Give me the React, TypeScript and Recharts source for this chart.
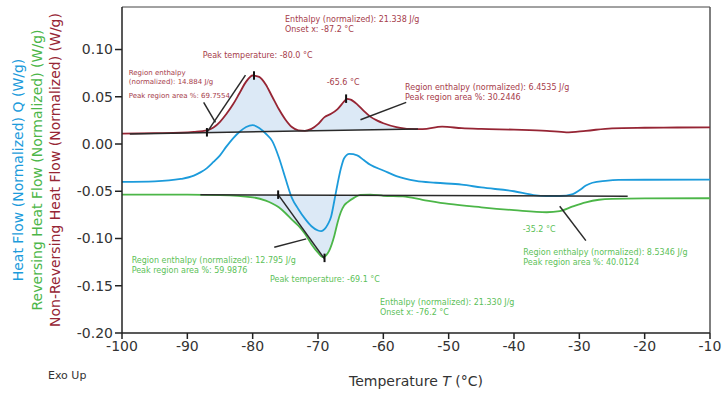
import {
	Area,
	ComposedChart,
	Line,
	ReferenceDot,
	ReferenceLine,
	XAxis,
	YAxis,
} from "recharts";

// Non-reversing heat flow (dark red)
const nonRevTemp = [
	-100, -95, -91, -89, -87, -86, -85, -84, -83, -82, -81, -80, -79, -78, -77,
	-76, -75, -74, -73, -72, -71, -70, -69, -68, -67, -66, -65.6, -65, -64, -63,
	-62, -61, -60, -58, -56, -54, -51, -48, -45, -40, -35, -32, -29, -25, -20,
	-15, -10,
];
const nonRevFlow = [
	0.011, 0.0115, 0.012, 0.0128, 0.0145, 0.0175, 0.0235, 0.032, 0.042, 0.054,
	0.066, 0.0725, 0.071, 0.063, 0.05, 0.037, 0.026, 0.018, 0.0145, 0.014, 0.016,
	0.021, 0.0285, 0.032, 0.037, 0.045, 0.0478, 0.047, 0.042, 0.035, 0.029, 0.025,
	0.022, 0.018, 0.016, 0.0158, 0.0183, 0.0168, 0.016, 0.0152, 0.014, 0.0124,
	0.014, 0.0166, 0.0172, 0.0175, 0.0177,
];

// Total heat flow (blue)
const heatTemp = [
	-100, -95, -91, -89, -88, -87, -86, -85, -84, -83, -82, -81, -80, -79, -78,
	-77, -76, -75, -74, -73, -72, -71, -70, -69.5, -69, -68.5, -68, -67.5, -67,
	-66.5, -66, -65.2, -64, -63, -62, -60, -58, -55, -52, -48, -45, -40, -37,
	-35, -33, -31, -30, -29, -28, -26, -24, -20, -10,
];
const heatFlow = [
	-0.04, -0.0395, -0.037, -0.0335, -0.03, -0.0255, -0.019, -0.012, -0.0025,
	0.006, 0.013, 0.018, 0.02, 0.017, 0.011, 0.003, -0.014, -0.036, -0.057,
	-0.069, -0.079, -0.087, -0.0915, -0.0922, -0.09, -0.085, -0.077, -0.06,
	-0.042, -0.026, -0.015, -0.0105, -0.012, -0.017, -0.022, -0.028, -0.034,
	-0.039, -0.041, -0.043, -0.046, -0.05, -0.054, -0.055, -0.055, -0.053, -0.049,
	-0.044, -0.041, -0.039, -0.038, -0.0378, -0.0377,
];

// Reversing heat flow (green)
const revTemp = [
	-100, -90, -85, -80, -78, -77, -76, -75, -74, -73, -72, -71, -70, -69.3,
	-68.8, -68.3, -67.5, -67, -66.5, -66, -65.5, -64.5, -63.5, -62, -60, -57, -54,
	-50, -45, -40, -35, -33, -31, -29, -27, -25, -20, -10,
];
const revFlow = [
	-0.0536, -0.0536, -0.054, -0.0564, -0.06, -0.063, -0.067, -0.073, -0.08,
	-0.0865, -0.095, -0.106, -0.115, -0.1198, -0.118, -0.113, -0.097, -0.083,
	-0.072, -0.065, -0.0617, -0.057, -0.0538, -0.0535, -0.0548, -0.0555, -0.059,
	-0.0634, -0.067, -0.07, -0.0722, -0.071, -0.066, -0.0617, -0.059, -0.058,
	-0.0575, -0.0574,
];

// integrated peak regions: [temperature, low, high]
const redPeakRegion: [number, number, number][] = [
	[-87, 0.0124, 0.0145], [-86, 0.0125, 0.0175], [-85, 0.0126, 0.0235],
	[-84, 0.0127, 0.032], [-83, 0.0128, 0.042], [-82, 0.0129, 0.054],
	[-81, 0.013, 0.066], [-80, 0.0131, 0.0725], [-79, 0.0132, 0.071],
	[-78, 0.0133, 0.063], [-77, 0.0134, 0.05], [-76, 0.0135, 0.037],
	[-75, 0.0136, 0.026], [-74, 0.0137, 0.018], [-73, 0.0138, 0.0145],
	[-72, 0.0139, 0.014], [-71, 0.014, 0.016], [-70, 0.0141, 0.021],
	[-69, 0.0142, 0.0285], [-68, 0.0143, 0.032], [-67, 0.0144, 0.037],
	[-66, 0.0146, 0.045], [-65.6, 0.0146, 0.0478], [-65, 0.0147, 0.047],
	[-64, 0.0148, 0.042], [-63, 0.0149, 0.035], [-62, 0.015, 0.029],
	[-61, 0.0151, 0.025], [-60, 0.0152, 0.022], [-58, 0.0155, 0.018],
	[-56, 0.0157, 0.016], [-55, 0.0158, 0.0158],
];
const greenPeakRegion: [number, number, number][] = [
	[-88, -0.0536, -0.0537], [-85, -0.054, -0.0538], [-80, -0.0564, -0.0539],
	[-78, -0.06, -0.054], [-77, -0.063, -0.054], [-76, -0.067, -0.054],
	[-75, -0.073, -0.054], [-74, -0.08, -0.054], [-73, -0.0865, -0.054],
	[-72, -0.095, -0.054], [-71, -0.106, -0.0541], [-70, -0.115, -0.0541],
	[-69.3, -0.1198, -0.0541], [-68.8, -0.118, -0.0541], [-68.3, -0.113, -0.0541],
	[-67.5, -0.097, -0.0541], [-67, -0.083, -0.0541], [-66.5, -0.072, -0.0541],
	[-66, -0.065, -0.0541], [-65.5, -0.0617, -0.0542], [-64.5, -0.057, -0.0542],
	[-63.5, -0.0542, -0.0542],
];

// baselines, tangents and leader lines: [x1, y1, x2, y2]
const blackSegments: [number, number, number, number][] = [
	[-98.8, 0.0106, -54.7, 0.0159],
	[-88, -0.0537, -22.6, -0.0552],
	[-87.0, 0.0124, -81.1, 0.0729],
	[-87.5, 0.044, -85.7, 0.0229],
	[-56.5, 0.0441, -63.5, 0.0257],
	[-76.1, -0.0536, -69.0, -0.1216],
	[-76.7, -0.1092, -71.8, -0.1004],
	[-33.0, -0.0659, -29.0, -0.1022],
];
// small vertical tick marks: [x, y]
const peakMarks: [number, number][] = [
	[-87.0, 0.0124],
	[-79.8, 0.0725],
	[-65.7, 0.048],
	[-76.1, -0.0536],
	[-69.0, -0.1205],
];

const redNotes: [number, number, string, number][] = [
	[-75.05, 0.1291, "Enthalpy (normalized): 21.338 J/g", 8],
	[-75.05, 0.1185, "Onset x: -87.2 °C", 8],
	[-87.65, 0.091, "Peak temperature: -80.0 °C", 8],
	[-98.97, 0.073, "Region enthalpy", 7],
	[-98.97, 0.0635, "(normalized): 14.884 J/g", 7],
	[-98.97, 0.0487, "Peak region area %: 69.7554", 7],
	[-68.67, 0.0625, "-65.6 °C", 8],
	[-56.68, 0.0572, "Region enthalpy (normalized): 6.4535 J/g", 8],
	[-56.68, 0.0471, "Peak region area %: 30.2446", 8],
];
const greenNotes: [number, number, string, number][] = [
	[-98.52, -0.1259, "Region enthalpy (normalized): 12.795 J/g", 8],
	[-98.52, -0.1365, "Peak region area %: 59.9876", 8],
	[-77.35, -0.146, "Peak temperature: -69.1 °C", 8],
	[-60.51, -0.1703, "Enthalpy (normalized): 21.330 J/g", 8],
	[-60.51, -0.1809, "Onset x: -76.2 °C", 8],
	[-38.67, -0.0931, "-35.2 °C", 8],
	[-38.57, -0.1174, "Region enthalpy (normalized): 8.5346 J/g", 8],
	[-38.57, -0.128, "Peak region area %: 40.0124", 8],
];

const xTicks = [-100, -90, -80, -70, -60, -50, -40, -30, -20, -10];
const yTicks = [-0.2, -0.15, -0.1, -0.05, 0, 0.05, 0.1];

const RED = "#962534";
const BLUE = "#1c9bdb";
const GREEN = "#4cb648";
const RED_TEXT = "#a63c4a";
const GREEN_TEXT = "#5cbf58";
const FILL = "#dce9f6";
const FONT = "DejaVu Sans";

const toPoints = (xs: number[], ys: number[]) =>
	xs.map((t, i) => ({ t, v: ys[i] }));

const YTitle = ({ viewBox }: any) => {
	const cy = 170;
	const rows = [
		{ x: 23, color: BLUE, text: "Heat Flow (Normalized) Q (W/g)" },
		{ x: 42, color: GREEN, text: "Reversing Heat Flow (Normalized) (W/g)" },
		{ x: 60, color: RED, text: "Non-Reversing Heat Flow (Normalized) (W/g)" },
	];
	const x0 = viewBox ? viewBox.x : 0;
	return (
		<g>
			{rows.map((r) => (
				<text
					key={r.text}
					x={x0 + r.x}
					y={cy}
					fill={r.color}
					fontSize={14}
					fontFamily={FONT}
					textAnchor="middle"
					transform={`rotate(-90 ${x0 + r.x} ${cy})`}
				>
					{r.text}
				</text>
			))}
		</g>
	);
};

const XTitle = ({ viewBox }: any) => {
	const { x, y, width } = viewBox;
	return (
		<g fontFamily={FONT} fill="#333">
			<text x={x + width / 2} y={y + 53} fontSize={14} textAnchor="middle">
				Temperature <tspan fontStyle="italic">T</tspan> (°C)
			</text>
			<text x={48} y={y + 46} fontSize={11}>
				Exo Up
			</text>
		</g>
	);
};

const noteShape = (text: string, color: string, size: number) => (p: any) => (
	<text x={p.cx} y={p.cy} fill={color} fontSize={size} fontFamily={FONT}>
		{text}
	</text>
);

const App = () => {
	return (
		<div style={{ position: "absolute", left: 0, top: 0 }}>
			<ComposedChart
				width={728}
				height={393}
				margin={{ top: 7, right: 18, bottom: 30, left: 0 }}
				style={{ fontFamily: FONT }}
			>
				<XAxis
					type="number"
					dataKey="t"
					domain={[-100, -10]}
					ticks={xTicks}
					allowDataOverflow
					height={30}
					stroke="#222"
					strokeWidth={1.5}
					tickSize={6}
					tick={{ fill: "#333", fontSize: 14 }}
					label={<XTitle />}
				/>
				<YAxis
					type="number"
					domain={[-0.2, 0.145]}
					ticks={yTicks}
					allowDataOverflow
					width={122}
					stroke="#222"
					strokeWidth={1.5}
					tickSize={7}
					tickFormatter={(v: number) => v.toFixed(2)}
					tick={{ fill: "#333", fontSize: 14 }}
					label={<YTitle />}
				/>
				<ReferenceLine y={0.145} stroke="#444" strokeWidth={1} />
				<ReferenceLine x={-10} stroke="#555" strokeWidth={1.5} />

				<Area
					data={redPeakRegion.map(([t, lo, hi]) => ({ t, r: [lo, hi] }))}
					dataKey="r"
					type="monotone"
					stroke="none"
					fill={FILL}
					fillOpacity={1}
					isAnimationActive={false}
				/>
				<Area
					data={greenPeakRegion.map(([t, lo, hi]) => ({ t, r: [lo, hi] }))}
					dataKey="r"
					type="monotone"
					stroke="none"
					fill={FILL}
					fillOpacity={1}
					isAnimationActive={false}
				/>

				<Line
					data={toPoints(nonRevTemp, nonRevFlow)}
					dataKey="v"
					type="monotone"
					stroke={RED}
					strokeWidth={1.8}
					dot={false}
					isAnimationActive={false}
				/>
				<Line
					data={toPoints(heatTemp, heatFlow)}
					dataKey="v"
					type="monotone"
					stroke={BLUE}
					strokeWidth={1.8}
					dot={false}
					isAnimationActive={false}
				/>
				<Line
					data={toPoints(revTemp, revFlow)}
					dataKey="v"
					type="monotone"
					stroke={GREEN}
					strokeWidth={1.8}
					dot={false}
					isAnimationActive={false}
				/>

				{blackSegments.map(([x1, y1, x2, y2], i) => (
					<ReferenceLine
						key={`s${i}`}
						segment={[
							{ x: x1, y: y1 },
							{ x: x2, y: y2 },
						]}
						stroke="#2a2a2a"
						strokeWidth={1.5}
					/>
				))}
				{peakMarks.map(([x, y], i) => (
					<ReferenceLine
						key={`m${i}`}
						segment={[
							{ x, y: y - 0.0045 },
							{ x, y: y + 0.0045 },
						]}
						stroke="#111"
						strokeWidth={2}
					/>
				))}
				{redNotes.map(([x, y, text, size]) => (
					<ReferenceDot
						key={text}
						x={x}
						y={y}
						r={1}
						shape={noteShape(text, RED_TEXT, size)}
					/>
				))}
				{greenNotes.map(([x, y, text, size]) => (
					<ReferenceDot
						key={text}
						x={x}
						y={y}
						r={1}
						shape={noteShape(text, GREEN_TEXT, size)}
					/>
				))}
			</ComposedChart>
		</div>
	);
};

export default App;
